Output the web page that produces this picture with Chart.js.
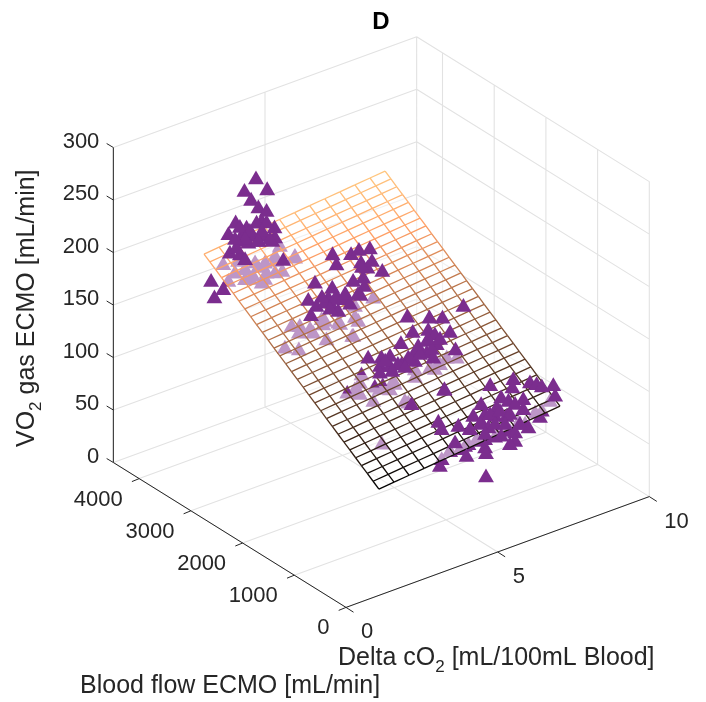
<!DOCTYPE html>
<html><head><meta charset="utf-8">
<style>html,body{margin:0;padding:0;background:#fff}#w{width:706px;height:702px;position:relative}canvas{display:block}</style>
<script src="https://cdn.jsdelivr.net/npm/chart.js@4"></script>
</head><body><div id="w"><canvas id="c" width="706" height="702"></canvas></div>
<script>
// ---- axis ticks
const flowTicks=[0,1000,2000,3000,4000];
const deltaTicks=[0,5,10];
const vo2Ticks=[0,50,100,150,200,250,300];
const flowMax=4500, deltaMax=10, vo2Max=300;
// ---- measurements, grouped by the blood-flow level of each cloud
const aboveDelta4000=[3.85,4.22,3.47,3.69,3.93,4.20,3.18,4.04,4.46,3.54,2.94,3.43,3.76,4.09,4.39,3.32,3.60,2.99,3.32,3.49,4.75,2.37,2.77,2.48,3.87,4.20,4.48,3.21,3.93,3.32,3.65,4.05,3.49,3.92,4.31,3.16];
const aboveVO24000=[244.0,229.8,236.2,225.4,215.6,209.5,209.1,201.7,190.9,200.5,200.6,196.9,190.3,186.8,178.9,190.1,185.6,182.5,177.4,170.9,157.0,162.1,149.9,145.1,201.8,198.4,181.2,185.0,183.8,203.5,196.2,192.0,190.4,183.9,181.6,193.8];
const belowDelta4000=[2.77,2.94,3.49,3.82,4.15,4.48,5.14,3.49,4.04,3.16,4.64,3.76,4.20,4.72,4.48,3.49,3.92,3.65,4.15,3.26,4.48];
const belowVO24000=[173.7,156.1,161.4,164.3,160.8,147.8,155.1,151.9,142.9,161.7,171.4,152.2,150.7,146.8,163.7,161.8,159.1,150.5,145.2,171.8,158.9];
const aboveDelta3000=[4.67,5.28,5.54,5.90,4.80,5.61,5.82,6.31,5.68,5.35,4.09,5.72,4.66,4.53,4.80,5.10,5.59,3.87,4.14,4.42,4.69,5.06,3.96,4.86,4.32,4.75,5.08,4.59,5.25,5.51,5.64,5.97];
const aboveVO23000=[193.8,187.5,188.8,186.5,182.9,176.1,169.0,160.6,161.0,161.2,173.0,152.6,162.1,154.0,152.7,151.2,145.4,158.8,150.2,150.4,142.8,146.9,143.3,137.9,156.9,150.6,151.8,142.8,140.6,147.3,171.6,173.8];
const belowDelta3000=[3.43,3.32,3.59,4.31,4.03,3.56,4.47,5.32,3.10,3.56,5.52,6.01,5.41,4.36,4.86,3.93,4.92,4.42,5.41];
const belowVO23000=[205.3,139.8,136.9,135.8,126.0,130.9,114.9,109.2,121.5,115.0,121.4,138.4,136.9,130.4,126.8,130.7,125.0,133.0,126.5];
const aboveDelta2000=[7.28,5.43,6.16,6.59,5.61,6.12,6.84,6.34,5.22,5.79,6.09,6.40,7.02,4.14,4.58,4.86,5.46,5.72,6.07,6.29,4.53,4.86,5.24,5.68,4.53,5.57,6.65,4.70,5.12,5.52,5.85,6.24,6.11,6.51,5.35,4.93];
const aboveVO22000=[147.8,157.2,148.5,143.9,140.7,137.2,127.7,130.6,134.0,125.3,127.0,120.6,109.1,131.6,127.0,125.7,117.7,121.5,116.1,109.0,119.7,116.2,113.7,112.2,113.3,72.2,74.4,122.8,115.3,115.9,117.2,117.8,128.8,124.6,110.1,110.8];
const belowDelta2000=[3.65,7.06,6.73,6.51,6.18,5.68,4.97,3.87,3.70,4.31,5.46,4.86,3.92,3.45,4.36,4.62,4.59,5.35,5.02,5.68,6.34,4.53,3.87];
const belowVO22000=[157.5,100.9,104.4,100.4,100.7,104.3,100.7,110.7,106.1,88.6,74.8,93.9,118.1,105.6,101.7,100.4,45.1,77.7,97.3,97.0,97.7,97.8,100.0];
const capDelta2000=[3.92,3.45,4.36,4.62];
const capVO22000=[121.1,108.6,104.7,103.4];
const aboveDelta1000=[4.95,6.46,7.22,7.19,7.77,7.99,8.16,8.54,8.60,6.82,7.55,7.06,6.16,6.67,7.55,5.90,6.29,6.62,7.00,4.75,4.86,5.41,5.79,6.18,6.40,7.72,7.28,7.28,6.82,7.11,5.30,6.29,6.32,5.68,6.32,6.45,6.78,7.11,6.62,6.95,6.12,5.79,6.29,7.44,7.28];
const aboveVO21000=[123.8,111.6,109.3,101.7,100.4,96.4,92.5,89.6,79.0,96.2,86.8,90.4,96.7,88.2,77.3,88.3,85.8,80.7,76.7,94.8,86.6,84.0,76.7,79.1,72.0,58.0,57.9,50.0,59.7,48.5,69.3,54.1,48.4,52.5,26.1,84.4,83.8,77.4,73.1,69.6,78.4,77.0,67.0,64.5,85.2];
const belowDelta1000=[8.16,8.43,7.39,6.95,7.94,6.29,5.74,5.46,5.13,4.86,4.80,6.01,6.67,5.13,5.63,6.12,6.62,7.11,7.61,8.10];
const belowVO21000=[69.3,75.9,66.3,64.6,70.0,62.0,63.0,61.2,63.1,58.0,52.3,64.9,62.8,63.0,62.6,62.2,60.8,61.2,62.7,64.1];
const planeIntercept=9.6, planeFlowSlope=0.0355, planeDeltaSlope=2.68;
const meshFlowStart=1000, meshFlowEnd=4383, meshFlowCells=30;
const meshDeltaStart=2.79, meshDeltaEnd=8.76, meshDeltaCells=12;

// ---- view of the 3-D box onto the flat chart scales
const view={ox:346,oy:607.4,fx:-0.0517,fy:-0.0322,dx:30.33,dy:-11.08,zy:-1.05};
function proj(f,d,z){return {x:view.ox+view.fx*f+view.dx*d,y:view.oy+view.fy*f+view.dy*d+view.zy*z};}
const gap={x:NaN,y:NaN};
function seg(list,a,b){list.push(proj(...a),proj(...b),gap);}

const gridPts=[];
vo2Ticks.forEach(z=>{seg(gridPts,[flowMax,0,z],[flowMax,deltaMax,z]);seg(gridPts,[flowMax,deltaMax,z],[0,deltaMax,z]);});
deltaTicks.forEach(d=>{seg(gridPts,[flowMax,d,0],[flowMax,d,vo2Max]);seg(gridPts,[0,d,0],[flowMax,d,0]);});
[...flowTicks,flowMax].forEach(f=>{seg(gridPts,[f,deltaMax,0],[f,deltaMax,vo2Max]);seg(gridPts,[f,0,0],[f,deltaMax,0]);});

const axisPts=[];
seg(axisPts,[flowMax,0,0],[flowMax,0,vo2Max]);
seg(axisPts,[0,0,0],[flowMax,0,0]);
seg(axisPts,[0,0,0],[0,deltaMax,0]);
function tickSeg(p,ax,ay){const q=proj(...p);axisPts.push(q,{x:q.x+ax,y:q.y+ay},gap);}
vo2Ticks.forEach(z=>tickSeg([flowMax,0,z],-6.7,-4));
flowTicks.forEach(f=>tickSeg([f,0,0],-7.3,3));
deltaTicks.forEach(d=>tickSeg([0,d,0],7.5,4.8));

function plane(f,d){return planeIntercept+planeFlowSlope*f+planeDeltaSlope*d;}
const meshFlow=[],meshDelta=[];
for(let i=0;i<=meshFlowCells;i++)meshFlow.push(meshFlowStart+(meshFlowEnd-meshFlowStart)*i/meshFlowCells);
for(let j=0;j<=meshDeltaCells;j++)meshDelta.push(meshDeltaStart+(meshDeltaEnd-meshDeltaStart)*j/meshDeltaCells);
const zLow=plane(meshFlowStart,meshDeltaStart),zHigh=plane(meshFlowEnd,meshDeltaEnd);
function copper(z){const t=Math.max(0,Math.min(1,(z-zLow)/(zHigh-zLow)));
  return `rgb(${Math.round(255*Math.min(1,1.25*t))},${Math.round(255*0.7812*t)},${Math.round(255*0.4975*t)})`;}
function meshLine(nodes){
  const zs=nodes.map(n=>plane(n[0],n[1]));
  return {data:nodes.map((n,i)=>proj(n[0],n[1],zs[i])),showLine:true,pointRadius:0,borderWidth:1.3,fill:false,borderColor:copper(zs[0]),
    segment:{borderColor:c=>copper((zs[c.p0DataIndex]+zs[c.p1DataIndex])/2)}};
}
function cloud(f,ds,zs){return ds.map((d,i)=>proj(f,d,zs[i]));}
const purple='#7b2d8e';
function marks(data,r){return {data,showLine:false,pointStyle:'triangle',pointRadius:r,pointHoverRadius:r,backgroundColor:purple,borderColor:purple,pointBorderWidth:0,borderWidth:0};}

const below=[...cloud(4000,belowDelta4000,belowVO24000),...cloud(3000,belowDelta3000,belowVO23000),...cloud(2000,belowDelta2000,belowVO22000),...cloud(1000,belowDelta1000,belowVO21000)];
const above=[...cloud(4000,aboveDelta4000,aboveVO24000),...cloud(3000,aboveDelta3000,aboveVO23000),...cloud(2000,aboveDelta2000,aboveVO22000),...cloud(1000,aboveDelta1000,aboveVO21000)];
const caps=cloud(2000,capDelta2000,capVO22000);

const corners=[[meshFlowStart,meshDeltaStart],[meshFlowStart,meshDeltaEnd],[meshFlowEnd,meshDeltaEnd],[meshFlowEnd,meshDeltaStart],[meshFlowStart,meshDeltaStart]];
const backToFront=[
 {label:'grid',data:gridPts,showLine:true,pointRadius:0,borderColor:'#e2e2e2',borderWidth:1.1,fill:false,spanGaps:false},
 {label:'axes',data:axisPts,showLine:true,pointRadius:0,borderColor:'#262626',borderWidth:1,fill:false,spanGaps:false},
 marks(below,9.2),
 {label:'surface',data:corners.map(c=>proj(c[0],c[1],plane(c[0],c[1]))),showLine:true,pointRadius:0,borderWidth:0,borderColor:'rgba(0,0,0,0)',fill:'shape',backgroundColor:'rgba(255,255,255,0.5)'},
 marks(caps,5.4),
 ...meshFlow.map(f=>meshLine(meshDelta.map(d=>[f,d]))),
 ...meshDelta.map(d=>meshLine(meshFlow.map(f=>[f,d]))),
 marks(above,9.2)
];

const ink='#262626',face='"Liberation Sans",Arial,sans-serif',tickFont=`22px ${face}`,titleFont=`25px ${face}`,subFont=`17px ${face}`;
function sub(ctx,parts,x,y){let p=x;parts.forEach(t=>{ctx.font=t[1]?subFont:titleFont;ctx.fillText(t[0],p,y+(t[1]?9:0));p+=ctx.measureText(t[0]).width;});return p-x;}
const labels={id:'labels',afterDraw(ch){const ctx=ch.ctx;ctx.save();ctx.fillStyle=ink;ctx.textBaseline='middle';
  ctx.font=tickFont;ctx.textAlign='right';
  vo2Ticks.forEach(z=>{const q=proj(flowMax,0,z);ctx.fillText(String(z),q.x-14,q.y-6);});
  flowTicks.forEach(f=>{const q=proj(f,0,0);ctx.fillText(String(f),q.x-16.5,q.y+21);});
  ctx.textAlign='left';
  deltaTicks.forEach(d=>{const q=proj(0,d,0);ctx.fillText(String(d),q.x+15,q.y+25);});
  sub(ctx,[['Delta cO'],['2',1],[' [mL/100mL Blood]']],338,658);
  ctx.font=titleFont;ctx.fillText('Blood flow ECMO [mL/min]',80,686);
  ctx.translate(27,447);ctx.rotate(-Math.PI/2);
  sub(ctx,[['VO'],['2',1],[' gas ECMO [mL/min]']],0,0);
  ctx.restore();}};

new Chart(document.getElementById('c'),{type:'scatter',
 data:{datasets:backToFront.slice().reverse().map(d=>({clip:false,...d}))},
 options:{responsive:false,animation:false,events:[],layout:{autoPadding:false,padding:{left:56,right:0,top:0,bottom:0}},
  plugins:{legend:{display:false},tooltip:{enabled:false},
   title:{display:true,text:'D',fullSize:false,color:'#000',font:{family:face,size:24,weight:'bold'},padding:{top:8,bottom:0.2}}},
  scales:{x:{type:'linear',display:false,min:56,max:706},y:{type:'linear',display:false,reverse:true,min:37,max:702}}},
 plugins:[labels]});
</script></body></html>
